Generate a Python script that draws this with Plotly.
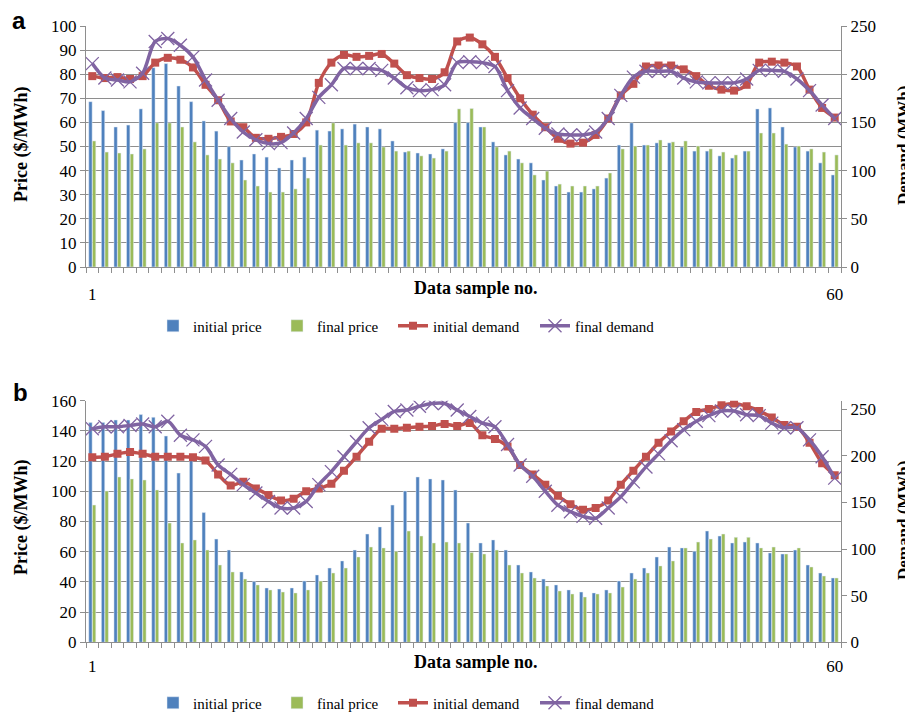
import plotly.graph_objects as go

samples = list(range(1, 61))

# Panel a
a_initial_price = [68.6, 64.9, 58.1, 58.9, 65.6, 82.7, 84.4, 75.1, 68.6, 60.6, 56.4, 49.9, 44.4, 46.9, 45.6,
                   41.1, 44.4, 45.6, 56.8, 56.4, 57.3, 59.3, 58.1, 57.3, 52.3, 47.7, 47.3, 46.9, 49.0, 59.9,
                   59.9, 58.1, 51.9, 46.5, 44.8, 43.2, 36.1, 33.6, 31.1, 31.1, 32.4, 36.9, 50.6, 59.8, 50.6,
                   51.5, 51.5, 49.8, 48.1, 48.1, 46.1, 45.2, 48.1, 65.6, 66.0, 58.1, 49.8, 48.1, 43.2, 38.2]
a_final_price = [52.3, 47.7, 47.3, 46.9, 49.0, 59.8, 59.8, 58.1, 51.9, 46.5, 44.8, 43.2, 36.1, 33.6, 31.1,
                 31.1, 32.4, 36.9, 50.6, 59.8, 50.6, 51.5, 51.5, 49.8, 48.1, 48.1, 46.1, 45.2, 48.1, 65.6,
                 65.8, 58.1, 49.8, 48.1, 43.2, 38.2, 39.8, 34.4, 33.6, 33.6, 33.6, 39.0, 49.0, 50.2, 50.6,
                 52.7, 51.9, 52.3, 50.2, 49.0, 47.7, 46.5, 48.1, 55.6, 55.6, 51.0, 50.2, 49.0, 47.7, 46.5]
a_initial_demand = [198, 196, 197, 195, 198, 212, 217, 215, 207, 189, 173, 151, 145, 134, 133,
                    135, 138, 150, 191, 212, 220, 218, 219, 221, 211, 199, 196, 195, 202, 234,
                    238, 231, 218, 196, 175, 158, 145, 133, 128, 129, 137, 154, 178, 190, 208,
                    209, 209, 205, 198, 188, 184, 183, 189, 212, 213, 212, 208, 184, 165, 155]
a_final_demand = [211, 196, 194, 192, 201, 234, 237, 230, 218, 194, 173, 154, 140, 132, 128,
                  129, 139, 154, 176, 189, 206, 206, 206, 204, 196, 186, 183, 184, 189, 212,
                  213, 212, 208, 183, 165, 154, 144, 138, 137, 137, 140, 154, 178, 197, 203,
                  203, 203, 196, 192, 191, 191, 191, 195, 204, 204, 203, 195, 183, 168, 154]

# Panel b
b_initial_price = [145.5, 145.5, 147.2, 147.2, 150.8, 149.0, 136.6, 112.1, 120.8, 85.9, 68.4, 61.1, 46.6, 40.2, 36.0,
                   35.3, 36.0, 40.6, 44.6, 49.2, 53.9, 61.1, 71.7, 76.4, 90.9, 100.2, 109.5, 108.2, 107.5, 100.9,
                   79.0, 65.8, 67.8, 61.1, 51.2, 46.6, 41.9, 38.0, 34.7, 33.3, 32.7, 34.7, 40.6, 45.9, 49.2,
                   56.5, 63.1, 62.5, 60.3, 73.7, 70.4, 65.8, 66.4, 65.8, 59.2, 58.5, 61.1, 51.2, 45.9, 42.6]
b_final_price = [90.9, 100.2, 109.5, 108.2, 107.5, 100.9, 79.0, 65.8, 67.8, 61.1, 51.2, 46.6, 41.9, 38.0, 34.7,
                 33.3, 32.7, 34.7, 40.6, 45.9, 49.2, 56.5, 63.1, 62.5, 60.3, 73.7, 70.4, 65.8, 66.4, 65.8,
                 59.4, 58.5, 61.1, 51.2, 45.9, 42.6, 37.3, 34.0, 32.0, 30.0, 32.0, 32.7, 36.6, 41.9, 45.9,
                 50.6, 53.9, 62.5, 66.4, 68.4, 71.7, 69.5, 69.5, 62.5, 63.1, 58.5, 62.5, 49.9, 43.9, 42.6]
b_initial_demand = [198.5, 199, 202, 204, 202, 199, 199, 199, 198.5, 195, 180, 168, 172, 165, 158,
                    152, 154, 162, 165, 170, 184, 199, 215, 229, 229, 230, 231, 232, 234, 232,
                    235, 222, 218, 210, 190, 180, 169, 157, 148, 142, 144, 152, 169, 184, 199,
                    214, 226, 237, 247, 250, 254, 256, 253, 248, 241, 233, 231, 214, 192, 179]
b_final_demand = [229, 231, 231, 232.5, 234, 231, 237, 222, 217, 210, 190, 180, 169, 160, 151,
                  144, 144, 151, 169, 183, 199, 215, 230, 239, 247.5, 249, 253, 256, 256, 249,
                  242, 235, 231, 212, 190, 178, 162, 147, 140, 135, 133, 144, 156, 172, 188,
                  202, 216, 228, 237, 243, 248, 248, 244, 243, 235, 230, 230, 217, 199, 176]

series_names = ["initial price", "final price", "initial demand", "final demand"]
x_tick_vals = [1, 60]
x_tick_text = ["1", "60"]

BLUE = "#4F81BD"
GREEN = "#9BBB59"
RED = "#C0504D"
PURPLE = "#8064A2"
GRID = "#8E8E8E"
SERIF = "Liberation Serif, Times New Roman, serif"

# The page body has an 8px margin, so the figure starts at (8, 8) in the window.
OFF = 8
FW, FH = 913 - OFF, 712 - OFF

def px_x(sx):
    return (sx - OFF) / FW

def px_y(sy):
    return 1 - (sy - OFF) / FH

fig = go.Figure()


def add_panel(xa, ya, ya2, legs, ip, fp, idm, fdm):
    fig.add_trace(go.Bar(x=samples, y=ip, name=series_names[0], marker_color=BLUE,
                         xaxis=xa, yaxis=ya, legend=legs[0], offsetgroup="ip" + xa))
    fig.add_trace(go.Bar(x=samples, y=fp, name=series_names[1], marker_color=GREEN,
                         xaxis=xa, yaxis=ya, legend=legs[1], offsetgroup="fp" + xa))
    fig.add_trace(go.Scatter(x=samples, y=idm, name=series_names[2], mode="lines+markers",
                             line=dict(color=RED, width=3.5, shape="spline", smoothing=0.8),
                             marker=dict(symbol="square", size=8, color=RED),
                             xaxis=xa, yaxis=ya2, legend=legs[2]))
    fig.add_trace(go.Scatter(x=samples, y=fdm, name=series_names[3], mode="lines+markers",
                             line=dict(color=PURPLE, width=3.5, shape="spline", smoothing=0.8),
                             marker=dict(symbol="x-thin", size=13, color=PURPLE,
                                         line=dict(color=PURPLE, width=1.3)),
                             xaxis=xa, yaxis=ya2, legend=legs[3]))


add_panel("x", "y", "y2", ["legend", "legend2", "legend3", "legend4"],
          a_initial_price, a_final_price, a_initial_demand, a_final_demand)
add_panel("x2", "y3", "y4", ["legend5", "legend6", "legend7", "legend8"],
          b_initial_price, b_final_price, b_initial_demand, b_final_demand)

xdom = [px_x(86), px_x(841)]
adom = [px_y(267), px_y(26)]
bdom = [px_y(642.3), px_y(400.7)]

tickfont = dict(family=SERIF, size=17, color="black")

def xaxis_cfg(anchor, standoff):
    return dict(domain=xdom, anchor=anchor, range=[0.5, 60.5], tickmode="array",
                tickvals=x_tick_vals, ticktext=x_tick_text, ticks="", showgrid=False,
                zeroline=False, showline=True, linecolor=GRID, linewidth=1, automargin=False,
                tickfont=tickfont, ticklabelstandoff=standoff,
                minor=dict(tickmode="linear", tick0=0.5, dtick=1, ticks="outside",
                           ticklen=5, tickcolor=GRID, showgrid=False))

def yleft(dom, anchor, rmax, dt):
    return dict(domain=dom, anchor=anchor, range=[0, rmax], dtick=dt, tick0=0,
                showgrid=True, gridcolor=GRID, gridwidth=1, zeroline=False, automargin=False,
                showline=True, linecolor=GRID, ticks="outside", ticklen=5, tickcolor=GRID,
                tickfont=tickfont)

def yright(overlay, anchor, rmax):
    return dict(overlaying=overlay, anchor=anchor, side="right", range=[0, rmax], dtick=50, tick0=0,
                showgrid=False, zeroline=False, showline=True, linecolor=GRID, automargin=False,
                ticks="outside", ticklen=5, tickcolor=GRID, tickfont=tickfont)

def legend_cfg(text_x, y):
    return dict(orientation="h", xanchor="left", x=px_x(text_x - 40), yanchor="middle", y=px_y(y),
                font=dict(family=SERIF, size=15, color="black"), bgcolor="rgba(0,0,0,0)",
                itemwidth=30)

legend_text_x = [193, 317, 433, 575]
legends = {}
for i, tx in enumerate(legend_text_x):
    legends["legend" if i == 0 else "legend%d" % (i + 1)] = legend_cfg(tx, 326)
    legends["legend%d" % (i + 5)] = legend_cfg(tx, 703)

fig.update_layout(
    width=FW, height=FH,
    margin=dict(l=0, r=0, t=0, b=0, autoexpand=False),
    paper_bgcolor="white", plot_bgcolor="white",
    barmode="group", bargap=0.42, bargroupgap=0.08,
    xaxis=xaxis_cfg("y", 12),
    yaxis=yleft(adom, "x", 100, 10),
    yaxis2=yright("y", "x", 250),
    xaxis2=xaxis_cfg("y3", 8),
    yaxis3=yleft(bdom, "x2", 160, 20),
    yaxis4=yright("y3", "x2", 259),
    showlegend=True,
    **legends,
)

ann = []
def text(x, y, s, size, family=SERIF, angle=0):
    ann.append(dict(x=px_x(x), y=px_y(y), xref="paper", yref="paper", text=s, showarrow=False,
                    xanchor="center", yanchor="middle", textangle=angle,
                    font=dict(family=family, size=size, color="black")))

text(19, 21, "<b>a</b>", 24, family="Liberation Sans, Arial, sans-serif")
text(20, 392, "<b>b</b>", 24, family="Liberation Sans, Arial, sans-serif")
text(21, 145, "<b>Price ($/MWh)</b>", 18, angle=-90)
text(21, 518, "<b>Price ($/MWh)</b>", 18, angle=-90)
text(903, 146, "<b>Demand (MWh)</b>", 17, angle=-90)
text(903, 521, "<b>Demand (MWh)</b>", 17, angle=-90)
text(476, 288, "<b>Data sample no.</b>", 18)
text(476, 662, "<b>Data sample no.</b>", 18)
fig.update_layout(annotations=ann)

fig.write_html("out.html")
